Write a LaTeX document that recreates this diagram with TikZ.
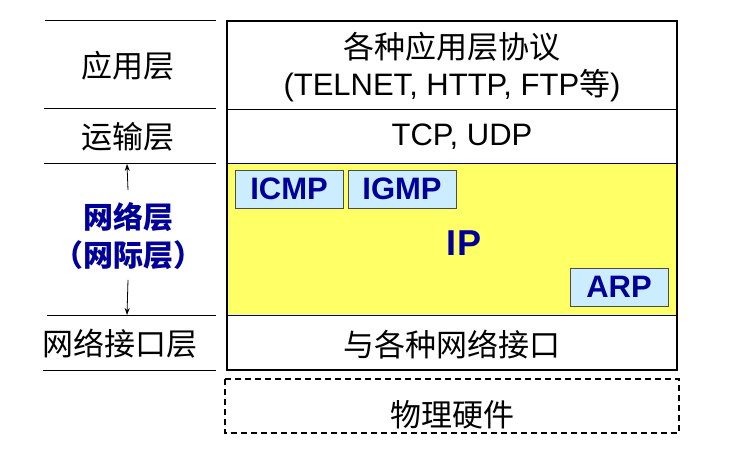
\documentclass[tikz,border=0pt]{standalone}
\usepackage{fontspec}
\setmainfont{Liberation Sans}
\newfontfamily\cjk{Noto Sans CJK SC}
\usetikzlibrary{arrows.meta}
\definecolor{ipyellow}{HTML}{FFFF66}
\definecolor{ipblue}{HTML}{000099}
\definecolor{protofill}{HTML}{CCECFF}

\begin{document}
\begin{tikzpicture}[x=1pt,y=-1pt,
		txt/.style={font=\fontsize{31}{36}\selectfont, inner sep=0pt},
		netlabel/.style={txt, text=ipblue, font=\fontsize{30}{38}\selectfont\cjk\bfseries, align=center},
		proto/.style={draw=black!70, fill=protofill, text=ipblue, font=\fontsize{31}{34}\selectfont\bfseries, minimum height=38pt, inner sep=0pt}]
		\useasboundingbox (0,0) rectangle (739,473);
		% layer stack
		\fill[ipyellow] (227,164) rectangle (677,315);
		\draw[ipblue, line width=1pt] (227,164)--(677,164) (227,315)--(677,315);
		\draw[line width=0.8pt] (227,109)--(677,109);
		\draw[line width=2pt] (227,21) rectangle (677,370);
		\draw[line width=1.2pt, dash pattern=on 6pt off 4pt] (225,379) rectangle (679,433);
		% left rules
		\foreach \y/\a in {21/45,109/44,164/44,315/47,370/43}
			\draw[line width=1pt] (\a,\y)--(216,\y);
		\coordinate (nettop) at (127,164);
		\coordinate (netbot) at (127,315);
		% layer names
		\node[txt] (appname) at (128,66) {\cjk 应用层};
		\node[txt] (transname) at (128,137) {\cjk 运输层};
		\node[netlabel] (netname) at (128,236) {网络层\\（网际层）};
		\node[txt] (linkname) at (120,344) {\cjk 网络接口层};
		\draw[-{Stealth[length=7pt,width=5pt]}, line width=0.8pt] ([yshift=12pt]netname.north) -- (nettop);
		\draw[-{Stealth[length=7pt,width=5pt]}, line width=0.8pt] ([yshift=-10pt]netname.south) -- (netbot);
		% protocols
		\node[txt] (appproto) at (452,47) {\cjk 各种应用层协议};
		\node[txt] (appproto2) at (452,86) {(TELNET, HTTP, FTP{\cjk 等})};
		\node[txt] (transproto) at (462,137) {TCP, UDP};
		\node[txt, text=ipblue, font=\fontsize{36}{40}\selectfont\bfseries] (ip) at (464,243) {IP};
		\node[proto, minimum width=108pt] (icmp) at (289,189) {ICMP};
		\node[proto, minimum width=108pt] (igmp) at (402,189) {IGMP};
		\node[proto, minimum width=98pt] (arp) at (619,287) {ARP};
		\node[txt] (linkproto) at (452,345) {\cjk 与各种网络接口};
		\node[txt] (hardware) at (452,415) {\cjk 物理硬件};
	\end{tikzpicture}
\end{document}
